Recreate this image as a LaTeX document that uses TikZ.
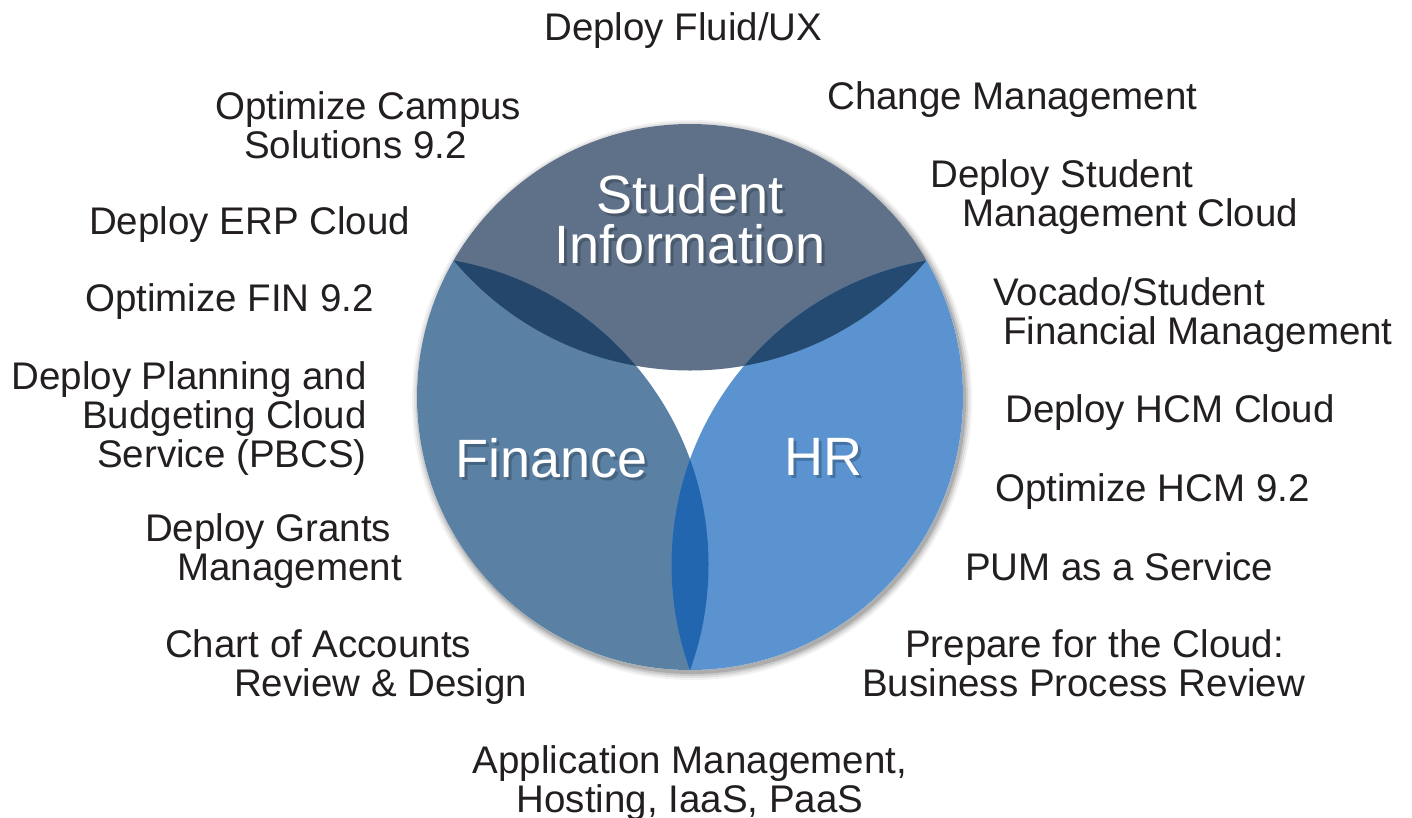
\documentclass[tikz,border=0pt]{standalone}
\usepackage{fontspec}
\setmainfont{Liberation Sans}
\definecolor{txt}{HTML}{231F20}
\definecolor{cS}{HTML}{5E7189}
\definecolor{cF}{HTML}{5A81A3}
\definecolor{cH}{HTML}{5A93D0}
\definecolor{cSF}{HTML}{24466B}
\definecolor{cSH}{HTML}{244A71}
\definecolor{cFH}{HTML}{2166AF}
\begin{document}
\begin{tikzpicture}[x=1pt,y=-1pt,
  item/.style={anchor=north west, inner sep=0pt, text=txt, font=\fontsize{38.5}{39}\selectfont, align=left},
  region/.style={inner sep=0pt, text=white, font=\fontsize{54}{50}\selectfont, align=center},
  regionshadow/.style={region, text=black, opacity=0.22}
]
\useasboundingbox (0,0) rectangle (1412,817);
\coordinate (O) at (690,397);
\coordinate (cs) at (690,61.5);
\coordinate (cf) at (399.5,564.75);
\coordinate (ch) at (980.5,564.75);
% drop shadow
\foreach \r/\o in {280/0.05,278/0.07,276/0.1,274/0.14}
  \fill[black,opacity=\o] ([shift={(2,3)}]O) circle (\r pt);
\fill[white] (O) circle (273pt);
% regions
\begin{scope}
  \clip (O) circle (273pt);
  \fill[cS] (cs) circle (309pt);
  \fill[cF] (cf) circle (309pt);
  \fill[cH] (ch) circle (309pt);
  \begin{scope}
    \clip (cs) circle (309pt);
    \fill[cSF] (cf) circle (309pt);
    \fill[cSH] (ch) circle (309pt);
  \end{scope}
  \begin{scope}
    \clip (cf) circle (309pt);
    \fill[cFH] (ch) circle (309pt);
  \end{scope}
\end{scope}
% region labels with soft shadow
\node[regionshadow, anchor=north] (shS) at (693,177) {Student\\Information};
\node[regionshadow, anchor=north west] (shF) at (458,441) {Finance};
\node[regionshadow, anchor=north west] (shH) at (787,441) {HR};
\node[region, anchor=north] (lS) at (690,174) {Student\\Information};
\node[region, anchor=north west] (lF) at (455,438) {Finance};
\node[region, anchor=north west] (lH) at (784,438) {HR};
% items
\node[item] (fluid) at (544,12) {Deploy Fluid/UX};
\node[item] (change) at (827,81) {Change Management};
\node[item] (campus) at (215,91) {Optimize Campus\\\hspace*{29pt}Solutions 9.2};
\node[item] (dstud) at (930,159) {Deploy Student\\\hspace*{32pt}Management Cloud};
\node[item] (erp) at (89,206) {Deploy ERP Cloud};
\node[item] (vocado) at (993,277) {Vocado/Student\\\hspace*{10pt}Financial Management};
\node[item] (fin) at (85,283) {Optimize FIN 9.2};
\node[item, anchor=north east, align=right] (pbcs) at (367,361) {Deploy Planning and\\Budgeting Cloud\\Service (PBCS)};
\node[item] (hcmc) at (1005,394) {Deploy HCM Cloud};
\node[item] (hcm92) at (995,473) {Optimize HCM 9.2};
\node[item] (grants) at (145,513) {Deploy Grants\\\hspace*{32pt}Management};
\node[item] (pum) at (965,552) {PUM as a Service};
\node[item] (chart) at (165,629) {Chart of Accounts\\\hspace*{69pt}Review \& Design};
\node[item] (prep) at (862,629) {\hspace*{43pt}Prepare for the Cloud:\\Business Process Review};
\node[item, anchor=north, align=center] (app) at (690,745) {Application Management,\\Hosting, IaaS, PaaS};
\end{tikzpicture}
\end{document}
